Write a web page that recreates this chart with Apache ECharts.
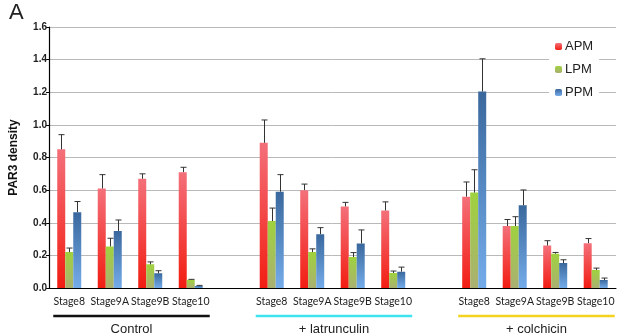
<!DOCTYPE html>
<html>
<head>
<meta charset="utf-8">
<script src="https://cdn.jsdelivr.net/npm/echarts@6/dist/echarts.min.js"></script>
<style>
  html, body { margin: 0; padding: 0; background: #fff; }
  #main { width: 617px; height: 336px; }
</style>
</head>
<body>
<div id="main"></div>
<script>
// data
const stages = ['Stage8', 'Stage9A', 'Stage9B', 'Stage10'];
const groups = ['Control', '+ latrunculin', '+ colchicin'];
const groupColors = ['#111111', '#3de3ef', '#f4d21e'];
const yTicks = [0, 0.2, 0.4, 0.6, 0.8, 1.0, 1.2, 1.4, 1.6];

const apm    = [0.85, 0.61, 0.67, 0.71,  0.89, 0.60, 0.50, 0.475,  0.56, 0.38, 0.26, 0.275];
const apmErr = [0.09, 0.085, 0.03, 0.03, 0.14, 0.037, 0.025, 0.053, 0.09, 0.04, 0.03, 0.028];
const lpm    = [0.22, 0.255, 0.145, 0.05, 0.41, 0.22, 0.19, 0.092,  0.585, 0.38, 0.21, 0.11];
const lpmErr = [0.025, 0.05, 0.015, 0.003, 0.08, 0.02, 0.027, 0.012, 0.14, 0.057, 0.008, 0.012];
const ppm    = [0.465, 0.35, 0.09, 0.012, 0.59, 0.33, 0.273, 0.10,  1.205, 0.507, 0.153, 0.049];
const ppmErr = [0.065, 0.067, 0.016, 0.004, 0.105, 0.04, 0.083, 0.028, 0.2, 0.094, 0.02, 0.012];

// insert an empty slot between groups
const cats = [];
const slotOf = [];
groups.forEach((g, gi) => {
  if (gi > 0) cats.push('');
  stages.forEach(s => { slotOf.push(cats.length); cats.push(s); });
});
function spread(arr) {
  const out = cats.map(() => null);
  arr.forEach((v, i) => { out[slotOf[i]] = v; });
  return out;
}
function errData(vals, errs) {
  return vals.map((v, i) => [slotOf[i], v, errs[i]]);
}

function grad(top, bottom) {
  return new echarts.graphic.LinearGradient(0, 0, 0, 1, [
    { offset: 0, color: top }, { offset: 1, color: bottom }
  ]);
}
const colAPM = grad('#f4707a', '#f21d12');
const colLPM = grad('#9fd23e', '#aab072');
const colPPM = grad('#3a689d', '#74acea');

const BW = 8;
function errSeries(name, vals, errs, offset) {
  return {
    type: 'custom',
    name: name + ' err',
    data: errData(vals, errs),
    z: 5,
    renderItem: function (params, api) {
      const base = api.coord([api.value(0), api.value(1)]);
      const top = api.coord([api.value(0), api.value(1) + api.value(2)]);
      const x = Math.round(base[0] + offset) + 0.5;
      const st = { stroke: '#333', lineWidth: 1 };
      return {
        type: 'group',
        children: [
          { type: 'line', shape: { x1: x, y1: base[1], x2: x, y2: top[1] }, style: st },
          { type: 'line', shape: { x1: x - 3, y1: top[1], x2: x + 3, y2: top[1] }, style: st }
        ]
      };
    }
  };
}

const chart = echarts.init(document.getElementById('main'));
chart.setOption({
  animation: false,
  title: {
    text: 'A', left: 4, top: -3,
    textStyle: { fontFamily: 'Liberation Sans', fontSize: 22, fontWeight: 'normal', color: '#222' }
  },
  legend: {
    data: ['APM', 'LPM', 'PPM'],
    orient: 'vertical',
    left: 549, top: 38,
    itemWidth: 7, itemHeight: 7, itemGap: 10,
    padding: [2, 6, 2, 6],
    backgroundColor: '#fff',
    textStyle: { fontFamily: 'Liberation Sans', fontSize: 13, color: '#222', padding: [0, 0, 0, -2] }
  },
  grid: { left: 40, top: 27, width: 580, bottom: 48 },
  xAxis: {
    type: 'category',
    data: cats,
    axisLine: { lineStyle: { color: '#000', width: 1.2 } },
    axisTick: { show: false },
    axisLabel: { interval: 0, margin: 8, fontFamily: 'Lato', fontSize: 10.5, color: '#222' }
  },
  yAxis: {
    type: 'value',
    min: yTicks[0], max: yTicks[yTicks.length - 1], interval: 0.2,
    name: 'PAR3 density',
    nameLocation: 'middle',
    nameGap: 29,
    nameTextStyle: { fontFamily: 'Liberation Sans', fontSize: 12, fontWeight: 'bold', color: '#111' },
    axisLine: { show: true, lineStyle: { color: '#000', width: 1.2 } },
    axisTick: { show: true, length: 3, lineStyle: { color: '#000' } },
    axisLabel: {
      margin: 2,
      fontFamily: 'Liberation Sans', fontSize: 10, fontWeight: 'bold', color: '#222',
      formatter: v => v.toFixed(1)
    },
    splitLine: { lineStyle: { color: '#b9b9b9', width: 1 } }
  },
  series: [
    { type: 'bar', name: 'APM', data: spread(apm), barWidth: BW, barGap: '0%', itemStyle: { color: colAPM } },
    { type: 'bar', name: 'LPM', data: spread(lpm), barWidth: BW, barGap: '0%', itemStyle: { color: colLPM } },
    { type: 'bar', name: 'PPM', data: spread(ppm), barWidth: BW, barGap: '0%', itemStyle: { color: colPPM } },
    errSeries('APM', apm, apmErr, -BW),
    errSeries('LPM', lpm, lpmErr, 0),
    errSeries('PPM', ppm, ppmErr, BW)
  ]
});

// group underlines and labels, placed from the axis scale
const graphics = [];
groups.forEach((g, gi) => {
  const x0 = chart.convertToPixel({ xAxisIndex: 0 }, slotOf[gi * 4]) - 16;
  const x1 = chart.convertToPixel({ xAxisIndex: 0 }, slotOf[gi * 4 + 3]) + 19;
  graphics.push({
    type: 'line', shape: { x1: x0, y1: 316, x2: x1, y2: 316 },
    style: { stroke: groupColors[gi], lineWidth: 2.5 }
  });
  graphics.push({
    type: 'text', x: (x0 + x1) / 2, y: 323,
    style: { text: g, fill: '#222', font: '13px "Liberation Sans"', align: 'center', verticalAlign: 'top' }
  });
});
chart.setOption({ graphic: graphics });
</script>
</body>
</html>
